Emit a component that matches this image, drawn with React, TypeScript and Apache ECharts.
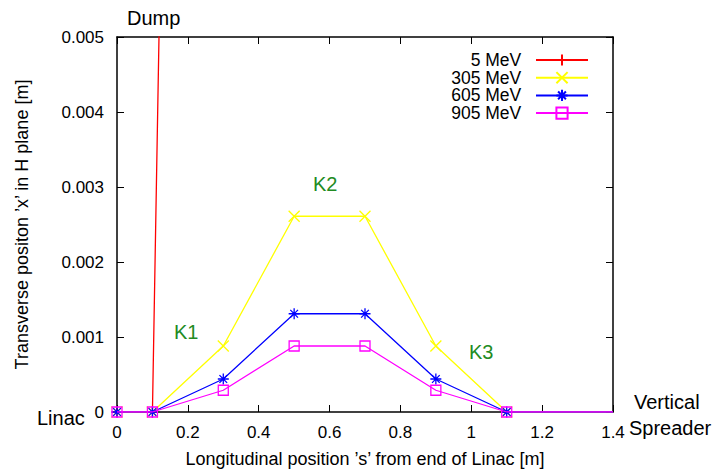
import React, { useEffect, useRef } from "react";
import * as echarts from "echarts";

const seriesNames = ["5 MeV", "305 MeV", "605 MeV", "905 MeV"];
const seriesColors = ["#ff0000", "#ffff00", "#0000ff", "#ff00ff"];
const xs5 = [0, 0.1, 0.3];
const ys5 = [0, 0, 0.054];
const xsK = [0, 0.1, 0.3, 0.5, 0.7, 0.9, 1.1, 1.4];
const ys305 = [0, 0, 0.00088, 0.00261, 0.00261, 0.00088, 0, 0];
const ys605 = [0, 0, 0.00044, 0.00131, 0.00131, 0.00044, 0, 0];
const ys905 = [0, 0, 0.00029, 0.00088, 0.00088, 0.00029, 0, 0];
const xTicks = [0, 0.2, 0.4, 0.6, 0.8, 1, 1.2, 1.4];

const plusPath = "path://M0,5L10,5M5,0L5,10";
const crossPath = "path://M0,0L10,10M0,10L10,0";
const starPath = "path://M0,5L10,5M5,0L5,10M1.5,1.5L8.5,8.5M1.5,8.5L8.5,1.5";
const symbols = [plusPath, crossPath, starPath, "rect"];

const FONT = "Liberation Sans, Arial, Helvetica, sans-serif";

export default function App() {
  const ref = useRef<HTMLDivElement>(null);
  useEffect(() => {
    if (!ref.current) return;
    const chart = echarts.init(ref.current, null, { renderer: "svg" });
    const allY = [ys5, ys305, ys605, ys905];
    const allX = [xs5, xsK, xsK, xsK];
    const series = seriesNames.map((name, i) => ({
      name,
      type: "line",
      xAxisIndex: 0,
      yAxisIndex: 0,
      data: allX[i].map((x, j) => {
        const item: any = { value: [x, allY[i][j]] };
        if (x >= 1.4 || (i === 0 && j === 2)) item.symbol = "none";
        return item;
      }),
      symbol: symbols[i],
      symbolSize: i === 3 ? 10 : 11,
      showAllSymbol: true,
      lineStyle: { color: seriesColors[i], width: 1.3 },
      itemStyle: { color: "rgba(0,0,0,0)", borderColor: seriesColors[i], borderWidth: 1.3 },
      emphasis: { disabled: true },
      clip: true,
      z: 2 + i,
    }));

    const legends = seriesNames.map((name, i) => ({
      data: [name],
      orient: "vertical",
      right: 124,
      top: 51 + 17.7 * i,
      align: "right",
      itemWidth: 52,
      itemHeight: 14,
      padding: 0,
      formatter: (n: string) => n + "  ",
      textStyle: { fontFamily: FONT, fontSize: 17.5, lineHeight: 16, color: "#000" },
    }));

    const tickStyle = { inside: true, length: 7, lineStyle: { color: "#000", width: 1 } };
    const axisLine = { show: true, onZero: false, lineStyle: { color: "#000", width: 1.5 } };

    chart.setOption({
      animation: false,
      grid: { left: 117, top: 37, right: 100, bottom: 58, containLabel: false },
      legend: legends,
      xAxis: [
        {
          type: "value",
          min: 0,
          max: 1.4,
          interval: 0.2,
          position: "bottom",
          axisLine,
          axisTick: tickStyle,
          splitLine: { show: false },
          axisLabel: {
            fontFamily: FONT,
            fontSize: 17,
            color: "#000",
            margin: 12,
            formatter: (v: number) => {
              const t = xTicks.find((x) => Math.abs(x - v) < 1e-9);
              return t === undefined ? "" : String(t);
            },
          },
          name: "Longitudinal position ’s’ from end of Linac [m]",
          nameLocation: "middle",
          nameGap: 38,
          nameTextStyle: { fontFamily: FONT, fontSize: 18, color: "#000" },
        },
        {
          type: "value",
          min: 0,
          max: 1.4,
          interval: 0.2,
          position: "top",
          axisLine,
          axisTick: tickStyle,
          axisLabel: { show: false },
          splitLine: { show: false },
        },
      ],
      yAxis: [
        {
          type: "value",
          min: 0,
          max: 0.005,
          interval: 0.001,
          position: "left",
          axisLine,
          axisTick: tickStyle,
          splitLine: { show: false },
          axisLabel: { fontFamily: FONT, fontSize: 17, color: "#000", margin: 13 },
          name: "Transverse positon ’x’ in H plane [m]",
          nameLocation: "middle",
          nameGap: 86,
          nameTextStyle: { fontFamily: FONT, fontSize: 18, color: "#000" },
        },
        {
          type: "value",
          min: 0,
          max: 0.005,
          interval: 0.001,
          position: "right",
          axisLine,
          axisTick: tickStyle,
          axisLabel: { show: false },
          splitLine: { show: false },
        },
      ],
      graphic: [
        { type: "text", left: 127, top: 8, style: { text: "Dump", font: `20px ${FONT}`, fill: "#000" } },
        { type: "text", left: 37, top: 408, style: { text: "Linac", font: `20px ${FONT}`, fill: "#000" } },
        { type: "text", left: 634, top: 392, style: { text: "Vertical", font: `20px ${FONT}`, fill: "#000" } },
        { type: "text", left: 629, top: 418, style: { text: "Spreader", font: `20px ${FONT}`, fill: "#000" } },
        { type: "text", left: 313, top: 174, style: { text: "K2", font: `20px ${FONT}`, fill: "#228b22" } },
        { type: "text", left: 174, top: 322, style: { text: "K1", font: `20px ${FONT}`, fill: "#228b22" } },
        { type: "text", left: 469, top: 342, style: { text: "K3", font: `20px ${FONT}`, fill: "#228b22" } },
      ],
      series,
    });
    return () => chart.dispose();
  }, []);
  return <div ref={ref} style={{ width: 713, height: 473, position: "absolute", left: 0, top: 0 }} />;
}
